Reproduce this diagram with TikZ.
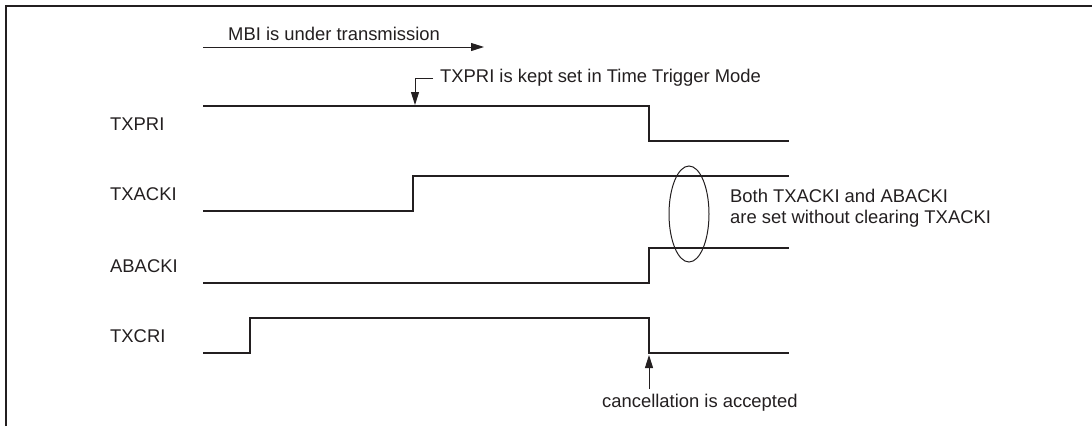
\documentclass[tikz,border=0pt]{standalone}
\usepackage{fontspec}
\setmainfont{Liberation Sans}
\usepackage{tikz}
\usepackage{xcolor}
\usetikzlibrary{positioning,arrows.meta,calc}
\definecolor{ink}{HTML}{231F20}

\tikzset{
  wave/.style={line width=2.2pt, draw=ink},
  lbl/.style={anchor=west, inner sep=0pt, text=ink, font=\fontsize{18.4}{21}\selectfont},
  note/.style={line width=1pt, draw=ink, -{Triangle[length=13pt,width=8pt]}},
}

\begin{document}
\begin{tikzpicture}[x=1pt,y=-1pt]
      \useasboundingbox (0,0) rectangle (1092,426);
      % frame
      \draw[line width=2.5pt, ink] (6,426) -- (6,6) -- (1092,6);
      % signal names
      \foreach \name/\y in {TXPRI/124,TXACKI/194,ABACKI/266,TXCRI/336} {
        \node[lbl] (\name) at (110,\y) {\name};
      }
      % waveforms
      \draw[wave] (203,106) -| (649,141) -- (789,141);
      \draw[wave] (203,211) -| (413,176) -- (789,176);
      \draw[wave] (203,283) -| (649,248) -- (789,248);
      \draw[wave] (203,353) -| (250,318) -| (649,353) -- (789,353);
      % MBI transmission
      \coordinate (mbiS) at (203,47);
      \coordinate (mbiE) at (484,47);
      \draw[note] (mbiS) -- (mbiE);
      \node[lbl, anchor=base west] (mbi) at (228,40) {MBI is under transmission};
      % time trigger mode
      \node[lbl] (kept) at (440,78) {TXPRI is kept set in Time Trigger Mode};
      \coordinate (keptAt) at (415,105);
      \draw[note] ([xshift=-7pt]kept.west) -| (keptAt);
      % both flags set
      \draw[line width=1pt, ink] (689,214) ellipse [x radius=20, y radius=48];
      \node[lbl, align=left] (both) at (730,208) {Both TXACKI and ABACKI\\are set without clearing TXACKI};
      % cancellation
      \node[lbl] (cancel) at (602,403) {cancellation is accepted};
      \coordinate (cancelFrom) at (649,389);
      \coordinate (cancelAt) at (649,355);
      \draw[note] (cancelFrom) -- (cancelAt);
    \end{tikzpicture}
\end{document}
